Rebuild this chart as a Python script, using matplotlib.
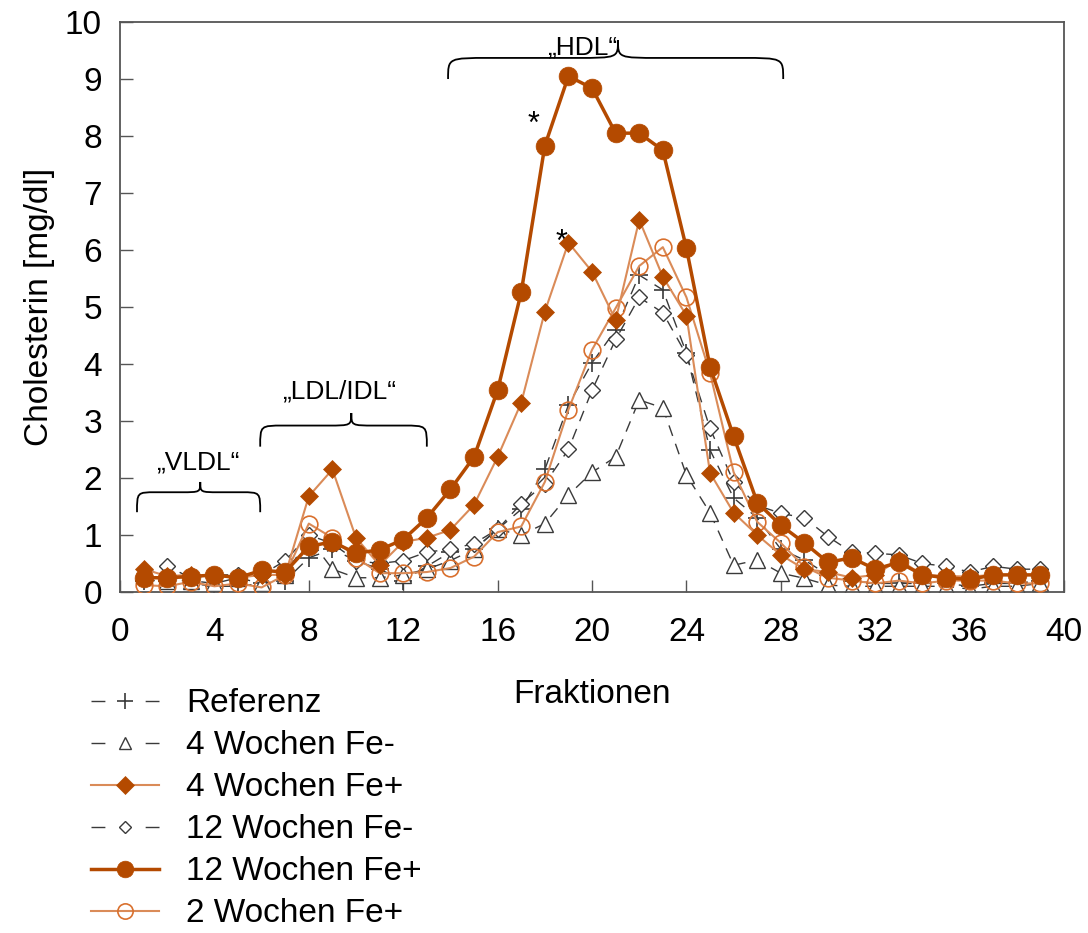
import numpy as np
import matplotlib
matplotlib.use("Agg")
import matplotlib.pyplot as plt
from matplotlib.path import Path
from matplotlib.patches import PathPatch
from matplotlib.lines import Line2D

plt.rcParams['font.family'] = ['Liberation Sans', 'DejaVu Sans']

fractions = list(range(1, 40))

referenz = [0.2, 0.2, 0.15, 0.1, 0.1, 0.15, 0.2, 0.6, 0.75, 0.55, 0.4, 0.2, 0.45, 0.7, 0.75,
            1.1, 1.45, 2.15, 3.28, 4.02, 4.6, 5.56, 5.3, 4.19, 2.49, 1.65, 1.3, 0.75, 0.56,
            0.3, 0.2, 0.15, 0.15, 0.15, 0.15, 0.1, 0.15, 0.15, 0.2]
w4_fe_minus = [0.3, 0.2, 0.2, 0.15, 0.25, 0.15, 0.3, 0.95, 0.4, 0.25, 0.25, 0.3, 0.4, 0.55, 0.75,
               1.1, 1.0, 1.2, 1.7, 2.1, 2.37, 3.37, 3.23, 2.05, 1.39, 0.47, 0.56, 0.33, 0.24,
               0.12, 0.1, 0.1, 0.1, 0.1, 0.1, 0.05, 0.1, 0.1, 0.15]
w4_fe_plus = [0.4, 0.28, 0.3, 0.28, 0.25, 0.3, 0.3, 1.68, 2.15, 0.95, 0.47, 0.88, 0.95, 1.09, 1.53,
              2.37, 3.32, 4.92, 6.13, 5.62, 4.77, 6.53, 5.53, 4.85, 2.09, 1.39, 1.0, 0.65, 0.4,
              0.35, 0.25, 0.3, 0.57, 0.3, 0.28, 0.27, 0.3, 0.3, 0.3]
w12_fe_minus = [0.3, 0.45, 0.25, 0.3, 0.3, 0.3, 0.55, 1.0, 0.85, 0.55, 0.5, 0.55, 0.7, 0.75, 0.85,
                1.1, 1.55, 1.9, 2.5, 3.54, 4.43, 5.17, 4.9, 4.16, 2.87, 1.93, 1.52, 1.38, 1.3,
                0.97, 0.7, 0.68, 0.65, 0.5, 0.45, 0.35, 0.45, 0.4, 0.4]
w12_fe_plus = [0.25, 0.25, 0.27, 0.3, 0.25, 0.38, 0.35, 0.8, 0.88, 0.68, 0.74, 0.92, 1.3, 1.8, 2.37,
               3.54, 5.26, 7.83, 9.05, 8.84, 8.05, 8.05, 7.75, 6.03, 3.95, 2.73, 1.57, 1.17, 0.86,
               0.52, 0.6, 0.4, 0.52, 0.3, 0.25, 0.22, 0.3, 0.3, 0.3]
w2_fe_plus = [0.12, 0.1, 0.18, 0.1, 0.15, 0.08, 0.3, 1.2, 0.95, 0.6, 0.33, 0.33, 0.35, 0.42, 0.62,
              1.05, 1.15, 1.93, 3.2, 4.25, 4.98, 5.72, 6.05, 5.17, 3.84, 2.1, 1.23, 0.86, 0.44,
              0.25, 0.2, 0.15, 0.2, 0.15, 0.2, 0.2, 0.2, 0.15, 0.15]

labels = ["Referenz", "4 Wochen Fe-", "4 Wochen Fe+", "12 Wochen Fe-", "12 Wochen Fe+", "2 Wochen Fe+"]
x_ticks = [0, 4, 8, 12, 16, 20, 24, 28, 32, 36, 40]
y_ticks = [0, 1, 2, 3, 4, 5, 6, 7, 8, 9, 10]

dark = '#B44A00'
light = '#DA8B58'
ring = '#D9702E'
gray = '#3A3A3A'

fig = plt.figure(figsize=(10.88, 9.33), dpi=100)
ax = fig.add_axes([0.1103, 0.3655, 0.978 - 0.1103, 0.9764 - 0.3655])

dash = (0, (8, 6))
ax.plot(fractions, referenz, color=gray, lw=1.0, linestyle=dash, marker='+',
        ms=13, mew=1.2, mec=gray, zorder=2)
ax.plot(fractions, w4_fe_minus, color=gray, lw=1.0, linestyle=dash, marker='^',
        ms=11, mew=1.0, mfc='white', mec=gray, zorder=2)
ax.plot(fractions, w12_fe_minus, color=gray, lw=1.0, linestyle=dash, marker='D',
        ms=8.5, mew=1.0, mfc='white', mec=gray, zorder=2)
ax.plot(fractions, w2_fe_plus, color=light, lw=1.5, linestyle='-', marker='o',
        ms=12, mew=1.2, mfc='none', mec=ring, zorder=3)
ax.plot(fractions, w4_fe_plus, color=light, lw=1.5, linestyle='-', marker='D',
        ms=9.5, mew=0.5, mfc=dark, mec=dark, zorder=4)
ax.plot(fractions, w12_fe_plus, color=dark, lw=2.5, linestyle='-', marker='o',
        ms=13.5, mew=0.5, mfc=dark, mec=dark, zorder=5)

ax.set_xlim(0, 40)
ax.set_ylim(0, 10)
ax.set_xticks(x_ticks)
ax.set_yticks(y_ticks)
ax.tick_params(direction='in', length=9, width=1.0, color='#555555', labelsize=24, pad=13)
ax.tick_params(axis='x', pad=18)
for s in ax.spines.values():
    s.set_color('#555555')
    s.set_linewidth(1.3)

ax.set_xlabel("Fraktionen", fontsize=24)
ax.set_ylabel("Cholesterin [mg/dl]", fontsize=24)
ax.xaxis.set_label_coords(0.5, -0.152)
ax.yaxis.set_label_coords(-0.069, 0.5)


def brace(x0, x1, xtip, ybase, ymid, ytip, r):
    verts = [(x0, ybase),
             (x0, ymid), (x0, ymid), (x0 + r, ymid),
             (xtip - r, ymid),
             (xtip, ymid), (xtip, ymid), (xtip, ytip),
             (xtip, ymid), (xtip, ymid), (xtip + r, ymid),
             (x1 - r, ymid),
             (x1, ymid), (x1, ymid), (x1, ybase)]
    codes = [Path.MOVETO,
             Path.CURVE4, Path.CURVE4, Path.CURVE4,
             Path.LINETO,
             Path.CURVE4, Path.CURVE4, Path.CURVE4,
             Path.CURVE4, Path.CURVE4, Path.CURVE4,
             Path.LINETO,
             Path.CURVE4, Path.CURVE4, Path.CURVE4]
    ax.add_patch(PathPatch(Path(verts, codes), fill=False, lw=1.3, color='black',
                           clip_on=False, zorder=6))


brace(0.72, 5.94, 3.4, 1.4, 1.75, 1.93, 0.8)
ax.text(3.3, 2.28, "„VLDL“", ha='center', va='center', fontsize=19)
brace(5.94, 13.0, 9.8, 2.55, 2.92, 3.14, 1.0)
ax.text(9.3, 3.52, "„LDL/IDL“", ha='center', va='center', fontsize=19)
brace(13.9, 28.1, 21.1, 9.0, 9.37, 9.68, 1.8)
ax.text(19.6, 9.55, "„HDL“", ha='center', va='center', fontsize=19)

ax.text(17.5, 8.2, "*", ha='center', va='center', fontsize=22)
ax.text(18.7, 6.12, "*", ha='center', va='center', fontsize=22)

leg_dash = (0, (10, 29))
handles = [
    Line2D([], [], color=gray, lw=1.0, linestyle=leg_dash, marker='+', ms=12, mew=1.2, mec=gray),
    Line2D([], [], color=gray, lw=1.0, linestyle=leg_dash, marker='^', ms=8, mew=1.0, mfc='white', mec=gray),
    Line2D([], [], color=light, lw=1.5, marker='D', ms=9, mew=0.5, mfc=dark, mec=dark),
    Line2D([], [], color=gray, lw=1.0, linestyle=leg_dash, marker='D', ms=6.5, mew=1.0, mfc='white', mec=gray),
    Line2D([], [], color=dark, lw=2.5, marker='o', ms=12, mew=0.5, mfc=dark, mec=dark),
    Line2D([], [], color=light, lw=1.5, marker='o', ms=11, mew=1.2, mfc='none', mec=ring),
]
leg = fig.legend(handles, labels, loc='upper left', bbox_to_anchor=(0.0715, 0.2765),
                 frameon=False, fontsize=24, handlelength=2.05, handletextpad=0.8,
                 labelspacing=0.33, borderaxespad=0)

fig.savefig("out.png", dpi=100)
